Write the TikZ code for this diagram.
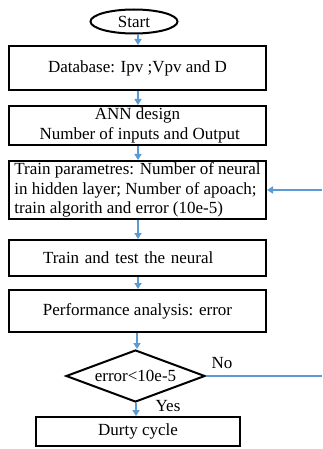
\documentclass[tikz,border=0pt]{standalone}
\usepackage{fontspec}
\setmainfont{Liberation Serif}
\usetikzlibrary{shapes.geometric,arrows.meta}
\definecolor{arrblue}{RGB}{91,155,213}
\begin{document}
\begin{tikzpicture}[x=1pt,y=-1pt,
  font=\fontsize{17}{19.5}\selectfont,
  box/.style={draw=black,line width=2pt,rectangle,inner sep=0pt,minimum width=257pt},
  conn/.style={draw=arrblue,line width=1.6pt},
  arr/.style={conn,-{Triangle[width=7pt,length=6pt]}},
  lbl/.style={inner sep=0pt}]
\useasboundingbox[fill=white] (0,0) rectangle (322,449);
\node[draw=black,line width=2pt,ellipse,minimum width=87pt,minimum height=24pt,inner sep=0pt] (start) at (134,21.5) {Start};
\node[box,minimum height=44pt] (db) at (137.5,68) {Database: Ipv ;Vpv and D};
\node[box,minimum height=39pt,align=center] (ann) at (137.5,125.5) {ANN design\\ \ Number of inputs and Output};
\node[box,minimum height=58pt,align=left] (train) at (137.5,190) {Train parametres: Number of neural\\in hidden layer; Number of apoach;\\train algorith and error (10e-5)};
\node[box,minimum height=36pt,align=left,text width=189pt] (test) at (137.5,258) {Train and test the neural};
\node[box,minimum height=42pt] (perf) at (137.5,311) {Performance analysis: error};
\node[draw=black,line width=2pt,diamond,aspect=2.67,minimum width=139pt,minimum height=52pt,inner sep=0pt] (dec) at (135.5,376) {error<10e-5};
\node[box,minimum width=204pt,minimum height=29pt] (duty) at (138,431.5) {Durty cycle};
\node[lbl] (yes) at (168,406) {Yes};
\node[lbl] (no) at (222,363) {No};
\coordinate (rin) at (322,190);
\coordinate (rout) at (322,376);
\draw[arr] (start.south -| 138,0) -- (db.north -| 138,0);
\draw[arr] (db.south -| 138,0) -- (ann.north -| 138,0);
\draw[arr] (ann.south -| 138,0) -- (train.north -| 138,0);
\draw[arr] (train.south -| 138,0) -- (test.north -| 138,0);
\draw[arr] (test.south -| 138,0) -- (perf.north -| 138,0);
\draw[arr] (perf.south -| 137,0) -- (dec.north -| 137,0);
\draw[arr] (dec.south -| 136,0) -- (duty.north -| 136,0);
\draw[conn] (dec.east) -- (rout);
\draw[arr] (rin) -- (train.east);
\end{tikzpicture}
\end{document}
